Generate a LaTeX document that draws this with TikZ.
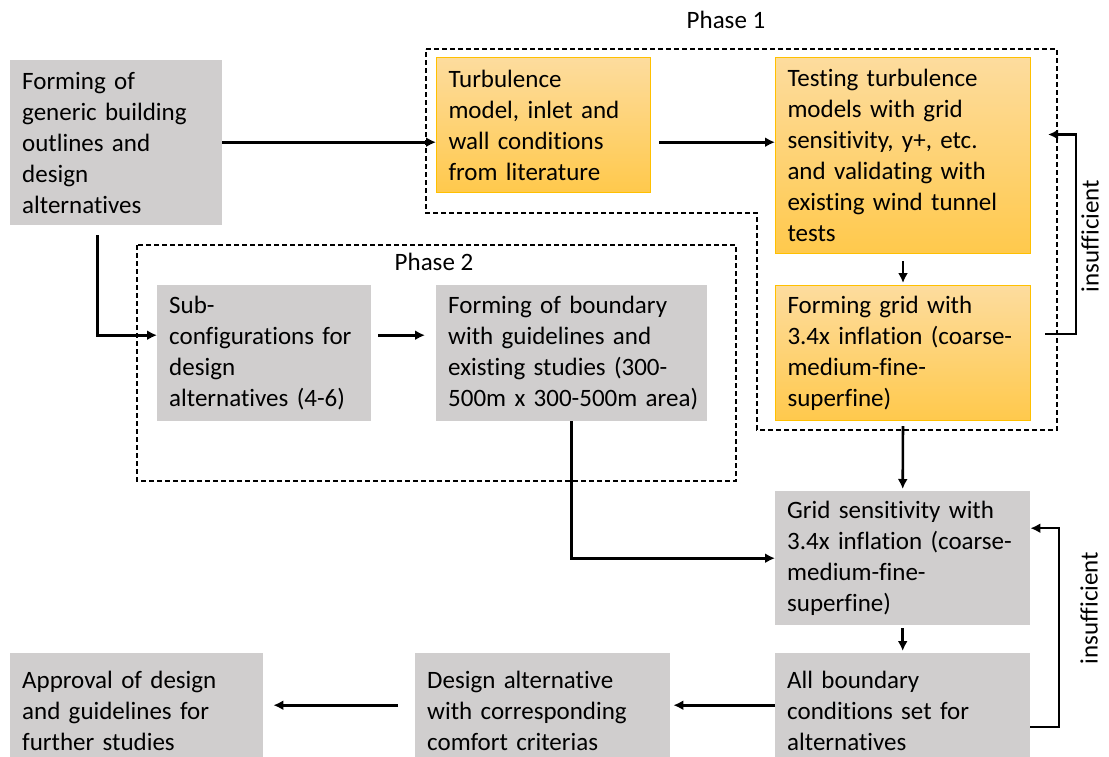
\documentclass[tikz,border=0pt]{standalone}
\usepackage{fontspec}
\setmainfont{Carlito}[Ligatures=NoCommon]
\usetikzlibrary{arrows.meta}

\definecolor{boxgrey}{HTML}{D0CECE}
\definecolor{goldedge}{HTML}{FFC000}
\definecolor{goldtop}{HTML}{FDDC9E}
\definecolor{goldbot}{HTML}{FFC94C}

\tikzset{
	greybox/.style={fill=boxgrey, draw=none, anchor=north west, align=left,
		inner xsep=12pt, inner ysep=0pt, font=\fontsize{25}{31}\selectfont},
	goldbox/.style={greybox, draw=goldedge, line width=1pt,
		top color=goldtop, bottom color=goldbot},
	flow/.style={-{Latex[length=10pt,width=10pt]}, line width=2.6pt},
	phase/.style={dash pattern=on 5pt off 3pt, line width=1.3pt},
	label/.style={font=\fontsize{25}{31}\selectfont},
}

\begin{document}
\begin{tikzpicture}[x=1pt, y=-1pt]
		\useasboundingbox (0,0) rectangle (1109,756);
		\clip (0,0) rectangle (1109,756);

		% phase frames
		\draw[phase] (426,49) -- (1057,49) -- (1057,430) -- (757,430) -- (757,213) -- (426,213) -- cycle;
		\node[label] (phase1) at (726,20) {Phase 1};
		\draw[phase] (137,245) rectangle (736,481);
		\node[label] (phase2) at (434,262) {Phase 2};

		% boxes
		\node[greybox, text width=188pt, minimum height=165pt] (outline) at (10,60)
			{Forming of\\ generic building\\ outlines and\\ design\\ alternatives};
		\node[goldbox, text width=190pt, minimum height=135pt] (literature) at (436,57)
			{Turbulence\\ model, inlet and\\ wall conditions\\ from literature};
		\node[goldbox, text width=231pt, minimum height=196pt] (testing) at (775,57)
			{Testing turbulence\\ models with grid\\ sensitivity, y+, etc.\\ and validating with\\ existing wind tunnel\\ tests};
		\node[goldbox, text width=231pt, minimum height=135pt] (gridform) at (775,285)
			{Forming grid with\\ 3.4x inflation (coarse-\\ medium-fine-\\ superfine)};
		\node[greybox, text width=190pt, minimum height=136pt] (subconf) at (157,285)
			{Sub-\\ configurations for\\ design\\ alternatives (4-6)};
		\node[greybox, text width=247pt, minimum height=136pt] (boundary) at (436,285)
			{Forming of boundary\\ with guidelines and\\ existing studies (300-\\ \mbox{500m x 300-500m area)}};
		\node[greybox, text width=231pt, minimum height=134pt] (gridsens) at (775,491)
			{Grid sensitivity with\\ 3.4x inflation (coarse-\\ medium-fine-\\ superfine)};
		\node[greybox, text width=231pt, minimum height=116pt] (allbc) at (775,653)
			{All boundary\\ conditions set for\\ alternatives};
		\node[greybox, text width=231pt, minimum height=116pt] (comfort) at (415,653)
			{Design alternative\\ with corresponding\\ comfort criterias};
		\node[greybox, text width=229pt, minimum height=116pt] (approval) at (10,653)
			{Approval of design\\ and guidelines for\\ further studies};

		% connectors
		\draw[flow] ([yshift=0.5pt]outline.east) -- ([yshift=0.5pt]outline.east -| literature.west);
		\draw[flow, shorten <=8pt] ([yshift=0.5pt]outline.east -| literature.east) -- ([yshift=0.5pt]outline.east -| testing.west);
		\draw[flow, shorten <=10pt] ([xshift=-19pt]outline.south) |- ([yshift=18pt]subconf.west);
		\draw[flow, shorten <=7pt, shorten >=11pt] ([yshift=18pt]subconf.east) -- ([yshift=18pt]subconf.east -| boundary.west);
		\draw[flow, shorten <=7pt, shorten >=2pt] (testing.south) -- (gridform.north);
		\draw[flow, shorten <=5pt, shorten >=2pt] (gridform.south) -- (gridsens.north);
		\draw[flow] (boundary.south) |- (gridsens.west);
		\draw[flow, shorten <=3pt, shorten >=2pt] (gridsens.south) -- (allbc.north);
		\draw[flow, shorten >=3pt] ([yshift=6pt]allbc.west) -- ([yshift=6pt]comfort.east);
		\draw[flow, shorten <=17pt, shorten >=10pt] ([yshift=6pt]comfort.west) -- ([yshift=6pt]approval.east);

		% loops back
		\draw[flow] ([xshift=14pt,yshift=19pt]gridform.east) -- ++(31,0) |- ([xshift=17pt,yshift=21pt]testing.east);
		\node[label, rotate=90] (retry1) at (1090,236) {insufficient};
		\draw[flow, line width=2pt] ([yshift=-16pt]allbc.east) -- ++(29,0) |- ([yshift=30pt]gridsens.east);
		\node[label, rotate=90] (retry2) at (1089,608) {insufficient};
	\end{tikzpicture}
\end{document}
